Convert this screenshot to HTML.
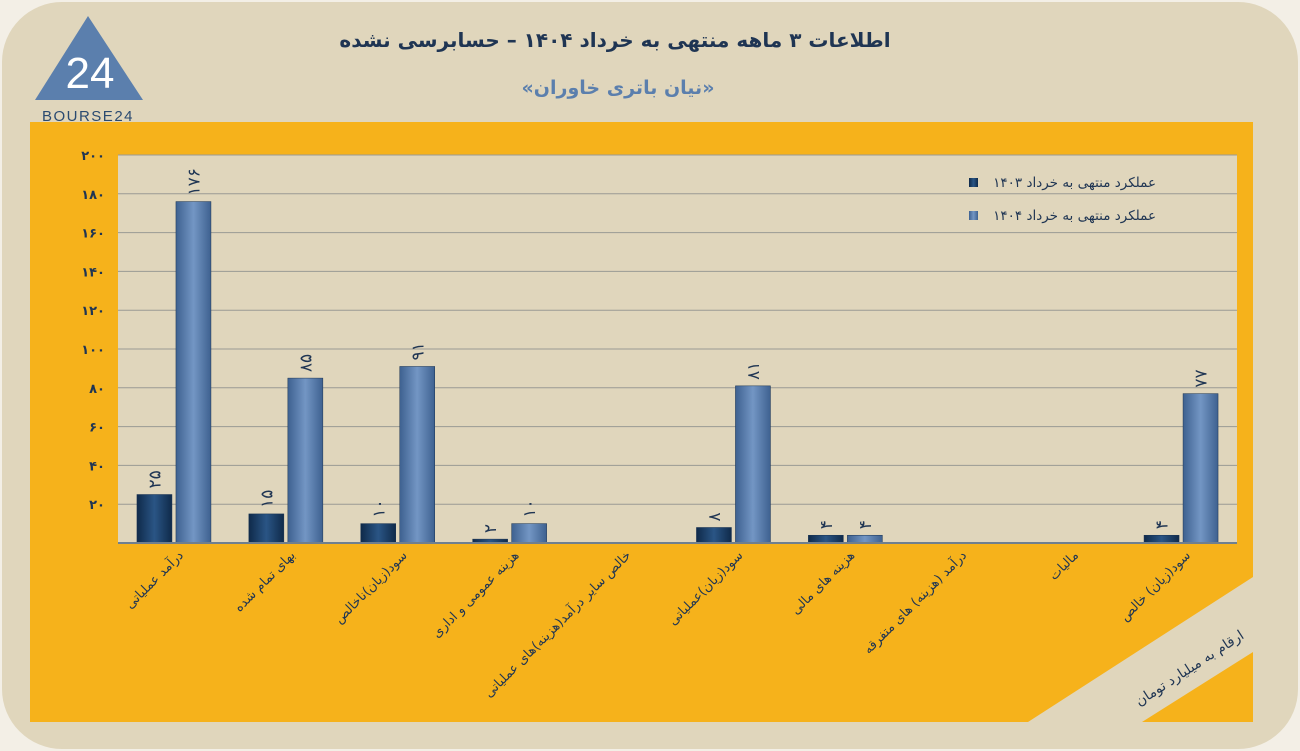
<!DOCTYPE html>
<html><head><meta charset="utf-8"><style>
html,body{margin:0;padding:0;background:#f3efe6;}
svg{display:block;font-family:"DejaVu Sans","Liberation Sans",sans-serif;}
</style></head><body>
<svg width="1300" height="751" viewBox="0 0 1300 751">
<defs>
<linearGradient id="gd" x1="0" x2="1"><stop offset="0" stop-color="#0f2a4a"/><stop offset="0.5" stop-color="#2a5585"/><stop offset="1" stop-color="#0f2a4a"/></linearGradient>
<linearGradient id="gl" x1="0" x2="1"><stop offset="0" stop-color="#3e6190"/><stop offset="0.5" stop-color="#7396c4"/><stop offset="1" stop-color="#3e6190"/></linearGradient>
</defs>
<rect x="2" y="2" width="1296" height="747" rx="60" fill="#e0d6bc"/>
<g>
<polygon points="88,16 143,100 35,100" fill="#5b7fad"/>
<text x="90" y="88" font-size="44" fill="#fff" text-anchor="middle" font-family="Liberation Sans">24</text>
<text x="88" y="121" font-size="15" fill="#2a4a70" text-anchor="middle" letter-spacing="1.5" font-family="Liberation Sans">BOURSE24</text>
</g>
<text x="615" y="47" font-size="20" font-weight="bold" fill="#1f3553" text-anchor="middle">اطلاعات ۳ ماهه منتهی به خرداد ۱۴۰۴ – حسابرسی نشده</text>
<text x="618" y="94" font-size="19" font-weight="bold" fill="#5b7fad" text-anchor="middle">«نیان باتری خاوران»</text>
<rect x="30" y="122" width="1223" height="600" fill="#f6b21b"/>
<polygon points="1028,722 1253,577 1253,652 1142,722" fill="#e0d6bc"/>
<text transform="translate(1192,672) rotate(-33)" font-size="14" fill="#1f3553" text-anchor="middle">ارقام به میلیارد تومان</text>
<rect x="118" y="155" width="1119" height="388" fill="#e0d6bc"/>
<g id="grid"></g><g id="bars"></g><g id="labels"></g>
<line x1="118" y1="543" x2="1237" y2="543" stroke="#6f7f8f" stroke-width="2"/>
<g>
<rect x="969" y="178" width="9" height="9" fill="url(#gd)"/>
<text x="1156" y="187" font-size="13.5" fill="#1f3553" text-anchor="end">عملکرد منتهی به خرداد ۱۴۰۳</text>
<rect x="969" y="211" width="9" height="9" fill="url(#gl)"/>
<text x="1156" y="220" font-size="13.5" fill="#1f3553" text-anchor="end">عملکرد منتهی به خرداد ۱۴۰۴</text>
</g>
</svg>
<script>
const categories=["درآمد عملیاتی","بهای تمام شده","سود(زیان)ناخالص","هزینه عمومی و اداری","خالص سایر درآمد(هزینه)های عملیاتی","سود(زیان)عملیاتی","هزینه های مالی","درآمد (هزینه) های متفرقه","مالیات","سود(زیان) خالص"];
const values1403=[25,15,10,2,0,8,4,0,0,4];
const values1404=[176,85,91,10,0,81,4,0,0,77];
const yTicks=[20,40,60,80,100,120,140,160,180,200];
const NS="http://www.w3.org/2000/svg";
const X0=118,X1=1237,Y0=543,Y1=155,YMAX=200;
const y=v=>Y0-(v/YMAX)*(Y0-Y1);
const band=(X1-X0)/categories.length;
const cx=i=>X0+band*(i+0.5);
const fa=n=>String(n).replace(/\d/g,d=>"۰۱۲۳۴۵۶۷۸۹"[d]);
function mk(t,a,p){const e=document.createElementNS(NS,t);for(const k in a)e.setAttribute(k,a[k]);p.appendChild(e);return e;}
const grid=document.getElementById('grid'),bars=document.getElementById('bars'),labels=document.getElementById('labels');
yTicks.forEach(t=>{
 const l=mk('line',{x1:X0,x2:X1,y1:y(t),y2:y(t),stroke:'#9a9a94','stroke-width':1},grid);
 
 
 const tx=mk('text',{x:105,y:y(t)+5,'font-size':13,'font-weight':'bold',fill:'#1f3553','text-anchor':'end'},grid);
 tx.textContent=fa(t);
 
 
});
const BW=35;
categories.forEach((c,i)=>{
 [[values1403,'url(#gd)',-BW-2,'bar-1403'],[values1404,'url(#gl)',2,'bar-1404']].forEach(([arr,f,off,nm])=>{
  const v=arr[i];if(v<=0)return;
  const top=y(v),x=cx(i)+off;
  const r=mk('rect',{x:x,y:top,width:BW,height:Y0-top,fill:f,stroke:'#1a3352','stroke-width':0.5},bars);
  
  
  const t=mk('text',{transform:`translate(${x+BW/2+6},${top-6}) rotate(-90)`,'font-size':17,fill:'#1f3553','text-anchor':'start'},labels);
  t.textContent=fa(v);
  
  
 });
 const t=mk('text',{transform:`translate(${cx(i)+10},${556}) rotate(-45)`,'font-size':13,fill:'#1f3553','text-anchor':'end'},labels);
 t.textContent=c;
 
 
});
</script>
</body></html>
